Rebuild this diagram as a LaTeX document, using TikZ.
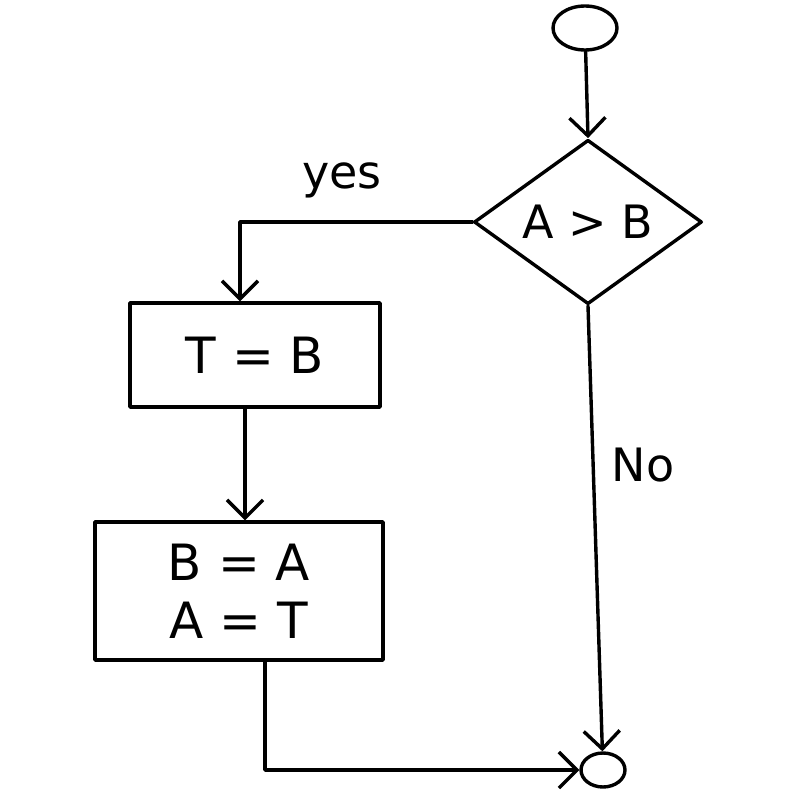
\documentclass[tikz,border=0pt]{standalone}
\usepackage{fontspec}
\setmainfont{DejaVu Sans}
\usetikzlibrary{arrows.meta,shapes.geometric}
\begin{document}
\begin{tikzpicture}[x=1pt,y=-1pt,
  line width=3.4pt, line join=round, line cap=round,
  flow/.style={-{Straight Barb[length=18pt,width=36pt,line width=3.4pt]}},
  box/.style={draw, rectangle, inner sep=0pt, font=\fontsize{50}{58}\selectfont, align=center},
  term/.style={draw, ellipse, inner sep=0pt},
  lbl/.style={font=\fontsize{46}{52}\selectfont}]
\useasboundingbox (0,0) rectangle (800,800);
\node[term, minimum width=64pt, minimum height=44pt] (start) at (585,28) {};
\node[draw, diamond, minimum width=228pt, minimum height=160pt, inner sep=0pt,
      font=\fontsize{46}{54}\selectfont] (dec) at (588,222) {A > B};
\node[box, minimum width=250pt, minimum height=104pt] (r1) at (255,355) {T = B};
\node[box, minimum width=288pt, minimum height=138pt] (r2) at (239,591) {B = A\\A = T};
\node[term, minimum width=44pt, minimum height=34pt] (end) at (603,770) {};
\draw[flow] (start) -- (dec.north);
\draw[flow] (dec.west) -| ([xshift=-15pt]r1.north);
\draw[flow] ([xshift=-10pt]r1.south) -- ([xshift=-10pt]r1.south |- r2.north);
\draw[flow] ([xshift=26pt]r2.south) |- (end.west);
\draw[flow] (dec.south) -- (end);
\node[lbl] (yes) at (342,180) {yes};
\node[lbl] (no) at (643,465) {No};
\end{tikzpicture}
\end{document}
